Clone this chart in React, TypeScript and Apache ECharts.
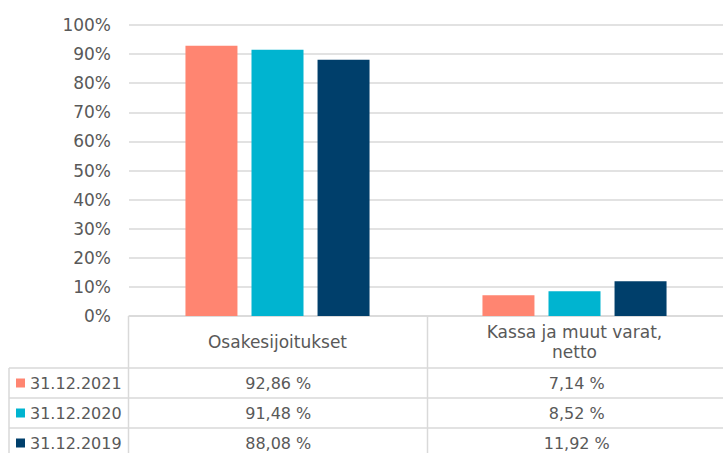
import React, { useEffect, useRef } from "react";
import * as echarts from "echarts";

const categories = ["Osakesijoitukset", "Kassa ja muut varat,\nnetto"];
const seriesNames = ["31.12.2021", "31.12.2020", "31.12.2019"];
const values2021 = [92.86, 7.14];
const values2020 = [91.48, 8.52];
const values2019 = [88.08, 11.92];
const yTicks = [0, 10, 20, 30, 40, 50, 60, 70, 80, 90, 100];
const colors = ["#FF8571", "#00B4D0", "#003F6B"];

const FONT = "'DejaVu Sans', sans-serif";
const TEXT = "#595959";
const LINE = "#D9D9D9";

export default function App() {
  const ref = useRef<HTMLDivElement>(null);
  useEffect(() => {
    if (!ref.current) return;
    const chart = echarts.init(ref.current, undefined, { renderer: "svg" });
    const W = 723;
    const H = 453;
    const gridLeft = 129;
    const gridRight = -3;
    const gridTop = 25;
    const gridBottomY = 316;
    const plotW = W - gridRight - gridLeft;
    const catW = plotW / categories.length;
    const rowLines = [368, 398, 428];
    const rowCenters = [383, 413, 443];
    const allValues = [values2021, values2020, values2019];
    const fmt = (v: number) => v.toFixed(2).replace(".", ",") + " %";

    const graphics: any[] = [];
    graphics.push({ type: "line", shape: { x1: gridLeft - 0.5, y1: gridBottomY, x2: gridLeft - 0.5, y2: H }, style: { stroke: LINE, lineWidth: 1.5 } });
    for (let i = 1; i < categories.length; i++) {
      const x = gridLeft + catW * i;
      graphics.push({ type: "line", shape: { x1: x, y1: gridBottomY, x2: x, y2: H }, style: { stroke: LINE, lineWidth: 1.5 } });
    }
    graphics.push({ type: "line", shape: { x1: 9, y1: rowLines[0], x2: 9, y2: H }, style: { stroke: LINE, lineWidth: 1.5 } });
    rowLines.forEach((y) => {
      graphics.push({ type: "line", shape: { x1: 9, y1: y, x2: W, y2: y }, style: { stroke: LINE, lineWidth: 1.5 } });
    });
    seriesNames.forEach((name, r) => {
      const cy = rowCenters[r];
      graphics.push({ type: "rect", shape: { x: 16, y: cy - 4.5, width: 9, height: 9 }, style: { fill: colors[r] } });
      graphics.push({ type: "text", x: 30, y: cy, style: { text: name, fill: TEXT, font: `16px ${FONT}`, align: "left", verticalAlign: "middle" } });
      allValues[r].forEach((v, c) => {
        graphics.push({ type: "text", x: gridLeft + catW * (c + 0.5), y: cy, style: { text: fmt(v), fill: TEXT, font: `16px ${FONT}`, align: "center", verticalAlign: "middle" } });
      });
    });

    chart.setOption({
      animation: false,
      textStyle: { fontFamily: FONT },
      grid: { left: gridLeft, right: gridRight, top: gridTop, bottom: H - gridBottomY, containLabel: false },
      xAxis: {
        type: "category",
        data: categories,
        axisLine: { show: true, lineStyle: { color: LINE, width: 1.5 } },
        axisTick: { show: false },
        axisLabel: { color: TEXT, fontSize: 17, lineHeight: 20, margin: 26, verticalAlign: "middle", fontFamily: FONT, interval: 0 },
      },
      yAxis: {
        type: "value",
        min: 0,
        max: 100,
        interval: 10,
        axisLine: { show: false },
        axisTick: { show: false },
        axisLabel: {
          color: TEXT,
          fontSize: 17,
          margin: 18,
          fontFamily: FONT,
          formatter: (v: number) => (yTicks.includes(v) ? `${v}%` : ""),
        },
        splitLine: { lineStyle: { color: LINE, width: 1.5 } },
      },
      series: seriesNames.map((name, i) => ({
        name,
        type: "bar",
        data: allValues[i],
        barWidth: 52,
        barGap: "27%",
        itemStyle: { color: colors[i] },
      })),
      graphic: graphics,
    });
    return () => chart.dispose();
  }, []);
  return <div ref={ref} style={{ width: 723, height: 453, position: "absolute", left: 0, top: 0 }} />;
}
